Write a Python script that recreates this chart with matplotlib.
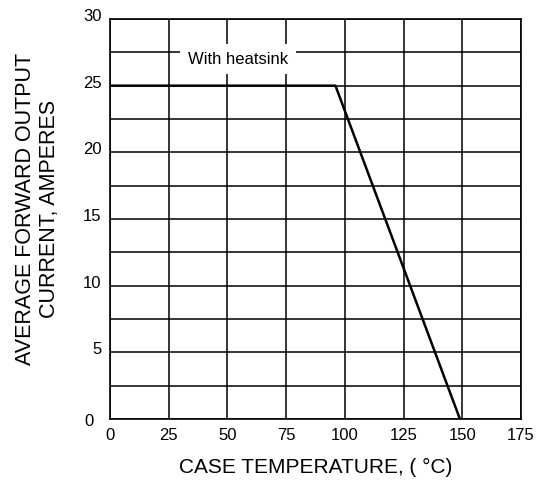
import matplotlib.pyplot as plt
from matplotlib.ticker import MultipleLocator
import matplotlib.transforms as mtransforms

plt.rcParams['font.family'] = ['Liberation Sans', 'DejaVu Sans']

# derating curve
case_temp = [0, 96, 149]
current = [25, 25, 0]

x_ticks = [0, 25, 50, 75, 100, 125, 150, 175]
y_ticks = [0, 5, 10, 15, 20, 25, 30]
y_labels = ['', '5', '10', '15', '20', '25', '30']

fig = plt.figure(figsize=(5.37, 4.8), dpi=100)
ax = fig.add_axes([0.2048, 0.127, 0.7654, 0.8334])

ax.plot(case_temp, current, color='black', linewidth=1.8, zorder=3, solid_capstyle='butt')

ax.set_xlim(0, 175)
ax.set_ylim(0, 30)
ax.set_xticks(x_ticks)
ax.set_yticks(y_ticks)
ax.set_yticklabels(y_labels)
ax.xaxis.set_minor_locator(MultipleLocator(25))
ax.yaxis.set_minor_locator(MultipleLocator(2.5))
ax.grid(True, which='both', color='black', linewidth=1.1)
ax.set_axisbelow(True)
ax.tick_params(which='both', length=0)
ax.tick_params(axis='x', pad=6.5, labelsize=12)
ax.tick_params(axis='y', pad=6, labelsize=12)
for s in ax.spines.values():
    s.set_linewidth(1.2)

# y tick labels sit a little above their gridlines
lift = mtransforms.ScaledTranslation(0, 3 / 72, fig.dpi_scale_trans)
for lab in ax.get_yticklabels():
    lab.set_transform(lab.get_transform() + lift)

# the y "0" sits left of its gridline in the original
off = mtransforms.offset_copy(ax.transData, fig=fig, x=-11.5, y=-1.5, units='points')
ax.text(0, 0, '0', transform=off, ha='right', va='center', fontsize=12)

ax.text(54.5, 27.0, 'With heatsink', ha='center', va='center', fontsize=12, zorder=4,
        bbox=dict(boxstyle='square,pad=0.45', facecolor='white', edgecolor='none'))

ax.set_xlabel('CASE TEMPERATURE, ( °C)', fontsize=15, labelpad=10.5)
ax.set_ylabel('AVERAGE FORWARD OUTPUT\nCURRENT, AMPERES', fontsize=15.5)
ax.yaxis.set_label_coords(-0.121, 0.525)

fig.savefig('out.png', dpi=100)
